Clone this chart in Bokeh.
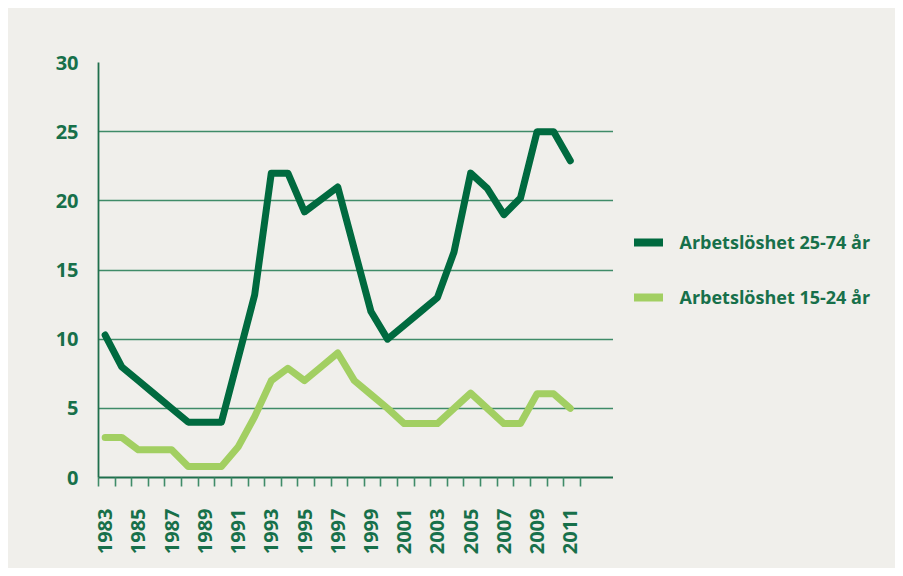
from bokeh.plotting import figure
from bokeh.models import Range1d, FixedTicker, Legend, LegendItem
from bokeh.layouts import row
from bokeh.embed import file_html
from bokeh.resources import INLINE
import math

years = list(range(1983, 2012))
arb_25_74 = [10.3, 8.0, 7.0, 6.0, 5.0, 4.0, 4.0, 4.0, 8.6, 13.2, 22.0, 22.0, 19.2, 20.1, 21.0,
             16.5, 12.0, 10.0, 11.0, 12.0, 13.0, 16.3, 22.0, 20.9, 19.0, 20.2, 25.0, 25.0, 22.9]
arb_15_24 = [2.9, 2.9, 2.0, 2.0, 2.0, 0.8, 0.8, 0.8, 2.2, 4.4, 7.0, 7.9, 7.0, 8.0, 9.0,
             7.0, 6.0, 5.0, 3.9, 3.9, 3.9, 5.0, 6.1, 5.0, 3.9, 3.9, 6.05, 6.05, 5.0]
label_years = list(range(1983, 2012, 2))
y_ticks = [0, 5, 10, 15, 20, 25, 30]
names = ["Arbetslöshet 25-74 år", "Arbetslöshet 15-24 år"]

DARK = "#006a3f"
LIGHT = "#a2cf62"
TXT = "#17704a"
GRID = "#3f8b68"
BG = "#f0efeb"
FONT = "Open Sans"

p = figure(width=605, height=560, output_backend="svg", toolbar_location=None,
           x_range=Range1d(1982.6, 2013.6), y_range=Range1d(0, 30),
           min_border_left=90, min_border_right=0, min_border_top=54, min_border_bottom=91)
p.background_fill_color = BG
p.border_fill_color = BG
p.outline_line_color = None

p.xgrid.visible = False
p.ygrid.ticker = FixedTicker(ticks=y_ticks)
p.ygrid.grid_line_color = GRID
p.ygrid.grid_line_width = 1.6

p.xaxis.ticker = FixedTicker(ticks=label_years, minor_ticks=[y - 0.4 for y in years] + [years[-1] + 0.6])
p.xaxis.major_tick_out = 0
p.xaxis.major_tick_in = 0
p.xaxis.minor_tick_out = 9
p.xaxis.minor_tick_in = 0
p.xaxis.minor_tick_line_color = GRID
p.xaxis.minor_tick_line_width = 1.6
p.xaxis.axis_line_color = "#1f6f4c"
p.xaxis.axis_line_width = 1.8
p.xaxis.major_label_orientation = math.pi / 2
p.xaxis.major_label_standoff = 22
p.xaxis.major_label_text_font = FONT
p.xaxis.major_label_text_font_style = "bold"
p.xaxis.major_label_text_font_size = "20px"
p.xaxis.major_label_text_color = TXT

p.yaxis.ticker = FixedTicker(ticks=y_ticks)
p.yaxis.major_tick_out = 0
p.yaxis.major_tick_in = 0
p.yaxis.minor_tick_out = 0
p.yaxis.minor_tick_in = 0
p.yaxis.axis_line_color = "#1f6f4c"
p.yaxis.axis_line_width = 1.8
p.yaxis.major_label_standoff = 20
p.yaxis.major_label_text_font = FONT
p.yaxis.major_label_text_font_style = "bold"
p.yaxis.major_label_text_font_size = "20px"
p.yaxis.major_label_text_color = TXT

p.line(years, arb_25_74, line_color=DARK, line_width=7, line_join="round", line_cap="round")
p.line(years, arb_15_24, line_color=LIGHT, line_width=7, line_join="round", line_cap="round")

# legend panel to the right of the plot (its own data lies outside its view)
q = figure(width=282, height=560, output_backend="svg", toolbar_location=None,
           x_range=Range1d(0, 1), y_range=Range1d(0, 1),
           x_axis_location=None, y_axis_location=None,
           min_border_left=0, min_border_right=0, min_border_top=0, min_border_bottom=0)
q.background_fill_color = BG
q.border_fill_color = BG
q.outline_line_color = None
q.xgrid.visible = False
q.ygrid.visible = False
g1 = q.line(years, arb_25_74, line_color=DARK, line_width=8, line_cap="round")
g2 = q.line(years, arb_15_24, line_color=LIGHT, line_width=8, line_cap="round")

legend = Legend(items=[LegendItem(label=names[0], renderers=[g1]),
                       LegendItem(label=names[1], renderers=[g2])],
                location=(20.5, 168.5), orientation="vertical",
                padding=0, margin=0, spacing=31, glyph_width=29, glyph_height=20,
                label_height=20, label_standoff=17,
                background_fill_alpha=0, border_line_alpha=0,
                label_text_font=FONT, label_text_font_style="bold",
                label_text_font_size="18px", label_text_color=TXT)
q.add_layout(legend, "center")

layout = row(p, q, spacing=0)
layout.margin = (8, 8, 8, 8)
layout.styles = {"background-color": BG}

open("out.html", "w").write(file_html(layout, INLINE))
